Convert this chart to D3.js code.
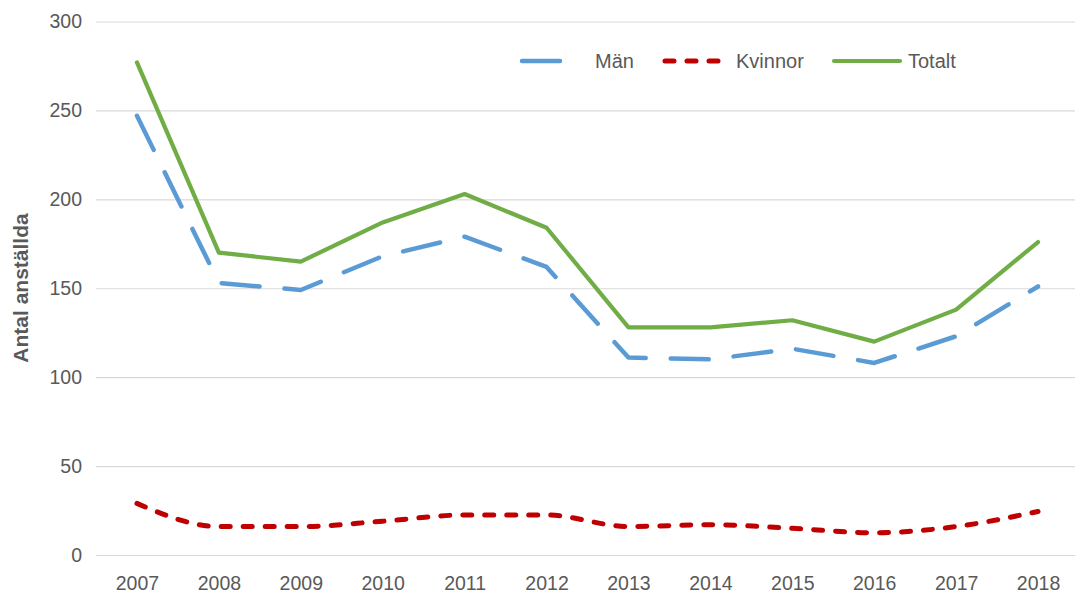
<!DOCTYPE html>
<html>
<head>
<meta charset="utf-8">
<script src="https://cdn.jsdelivr.net/npm/d3@7"></script>
<style>
  body { margin: 0; background: #fff; }
  svg text { font-family: "Liberation Sans", Arial, sans-serif; fill: #595959; }
</style>
</head>
<body>
<div id="chart"></div>
<script>
const years = ['2007', '2008', '2009', '2010', '2011', '2012', '2013', '2014', '2015', '2016', '2017', '2018'];
const man = [247, 153, 149, 168, 179, 162, 111, 110, 116, 108, 123, 151];
const kvinnor = [29, 16, 16, 19, 22.5, 22.5, 16, 17, 15, 12.5, 16, 24.5];
const totalt = [277, 170, 165, 187, 203, 184, 128, 128, 132, 120, 138, 176];
const yTicks = [0, 50, 100, 150, 200, 250, 300];

const width = 1075, height = 594;

const svg = d3.select('#chart').append('svg')
  .attr('width', width)
  .attr('height', height);

const x = d3.scalePoint().domain(years).range([96, 1079]).padding(0.5);
const y = d3.scaleLinear().domain([0, 300]).range([555, 21.5]);

// gridlines + y labels
const yAxis = svg.append('g')
  .attr('transform', 'translate(96,0)')
  .call(d3.axisLeft(y).tickValues(yTicks).tickSize(-(1079 - 96)).tickPadding(14));
yAxis.select('.domain').remove();
yAxis.selectAll('.tick line').attr('stroke', '#d9d9d9').attr('stroke-width', 1.2);
yAxis.selectAll('.tick text')
  .attr('fill', '#595959')
  .style('font-size', '19.5px')
  .style('font-family', '"Liberation Sans", Arial, sans-serif');

const xAxis = svg.append('g')
  .attr('transform', 'translate(0,555)')
  .call(d3.axisBottom(x).tickSize(0).tickPadding(21));
xAxis.select('.domain').remove();
xAxis.selectAll('.tick text')
  .attr('fill', '#595959')
  .style('font-size', '19.5px')
  .style('font-family', '"Liberation Sans", Arial, sans-serif');

svg.append('text')
  .attr('transform', 'translate(28,288) rotate(-90)')
  .attr('text-anchor', 'middle')
  .style('font-size', '21px')
  .style('font-weight', 'bold')
  .text('Antal anställda');

const series = [
  { name: 'Män', values: man, color: '#5B9BD5', width: 4.5, dash: '38,25', curve: d3.curveLinear },
  { name: 'Kvinnor', values: kvinnor, color: '#C00000', width: 5, dash: '9,13', curve: d3.curveMonotoneX },
  { name: 'Totalt', values: totalt, color: '#70AD47', width: 4.2, dash: null, curve: d3.curveLinear }
];

series.forEach(s => {
  const line = d3.line()
    .x((d, i) => x(years[i]))
    .y(d => y(d))
    .curve(s.curve);
  svg.append('path')
    .datum(s.values)
    .attr('fill', 'none')
    .attr('stroke', s.color)
    .attr('stroke-width', s.width)
    .attr('stroke-linecap', 'round')
    .attr('stroke-linejoin', 'round')
    .attr('stroke-dasharray', s.dash)
    .attr('d', line);
});

// legend
const legendItems = [
  { s: series[0], x1: 522, x2: 566, tx: 595 },
  { s: series[1], x1: 665, x2: 725, tx: 736 },
  { s: series[2], x1: 834, x2: 900, tx: 908 }
];
const legend = svg.append('g');
legendItems.forEach(l => {
  legend.append('line')
    .attr('x1', l.x1).attr('x2', l.x2)
    .attr('y1', 61).attr('y2', 61)
    .attr('stroke', l.s.color)
    .attr('stroke-width', l.s.width)
    .attr('stroke-linecap', 'round')
    .attr('stroke-dasharray', l.s.dash);
  legend.append('text')
    .attr('x', l.tx)
    .attr('y', 61)
    .attr('dy', '0.35em')
    .style('font-size', '20px')
    .text(l.s.name);
});
</script>
</body>
</html>
